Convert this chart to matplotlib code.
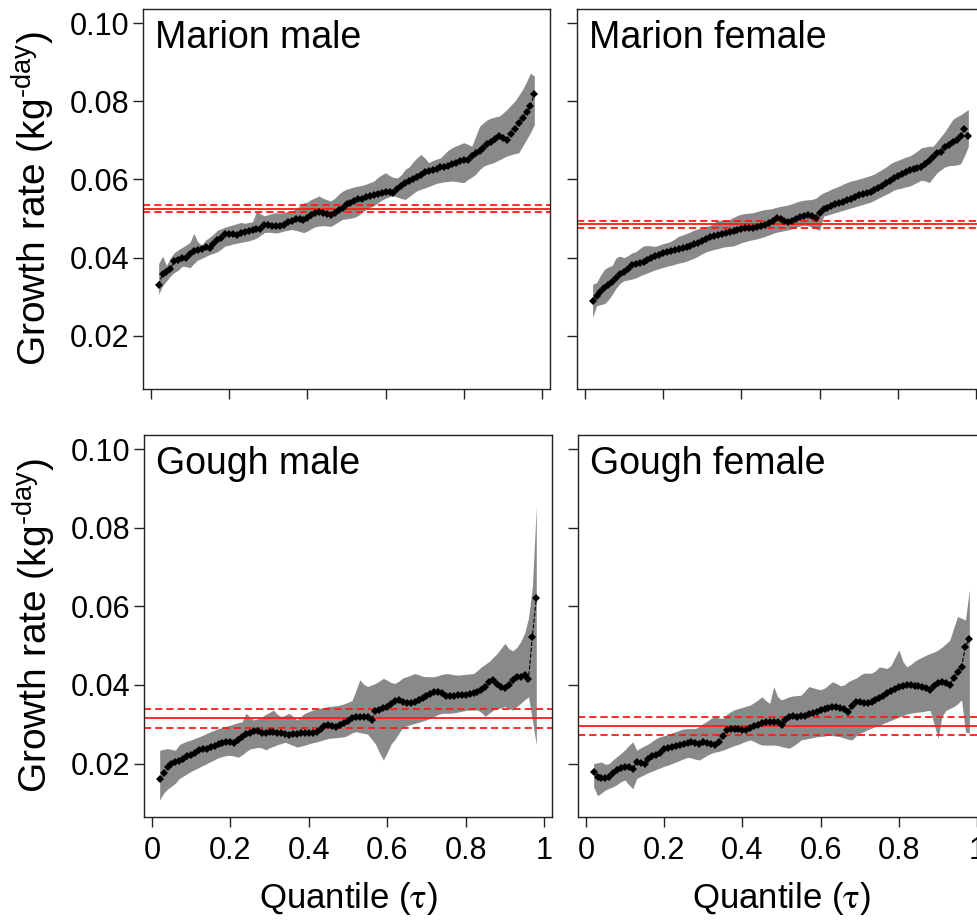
import numpy as np
import matplotlib
matplotlib.use("Agg")
import matplotlib.pyplot as plt

plt.rcParams['font.family'] = ['Liberation Sans', 'DejaVu Sans']
plt.rcParams['mathtext.fontset'] = 'custom'
plt.rcParams['mathtext.rm'] = 'Liberation Sans'

# Quantiles (tau) used in every panel
tau = np.round(np.arange(0.02, 0.985, 0.01), 2)

# Marion male
mm_est = [.0330, .0358, .0362, .0370, .0392, .0395, .0400, .0398, .0410, .0417,
          .0420, .0423, .0426, .0425, .0435, .0445, .0450, .0460, .0461, .0460,
          .0459, .0462, .0465, .0468, .0470, .0472, .0474, .0483, .0484, .0482,
          .0481, .0480, .0484, .0490, .0494, .0498, .0499, .0497, .0502, .0508,
          .0513, .0517, .0515, .0511, .0508, .0514, .0522, .0528, .0536, .0541,
          .0546, .0549, .0551, .0554, .0557, .0559, .0562, .0566, .0568, .0567,
          .0566, .0575, .0584, .0592, .0597, .0602, .0607, .0612, .0618, .0621,
          .0624, .0628, .0631, .0633, .0635, .0639, .0643, .0646, .0649, .0651,
          .0660, .0668, .0674, .0680, .0690, .0696, .0703, .0710, .0706, .0702,
          .0716, .0730, .0745, .0758, .0772, .0789, .0819]
mm_hi = [.0385, .0404, .0380, .0400, .0413, .0420, .0426, .0432, .0439, .0462,
         .0440, .0432, .0445, .0452, .0460, .0470, .0474, .0478, .0481, .0484,
         .0487, .0490, .0488, .0490, .0492, .0519, .0512, .0507, .0510, .0513,
         .0515, .0514, .0516, .0518, .0519, .0525, .0532, .0540, .0542, .0549,
         .0553, .0558, .0552, .0548, .0545, .0552, .0562, .0570, .0575, .0578,
         .0581, .0583, .0585, .0588, .0592, .0596, .0605, .0612, .0617, .0610,
         .0605, .0604, .0612, .0626, .0632, .0645, .0655, .0664, .0655, .0643,
         .0648, .0652, .0655, .0665, .0675, .0681, .0686, .0690, .0694, .0690,
         .0685, .0710, .0736, .0745, .0753, .0757, .0760, .0762, .0770, .0779,
         .0790, .0800, .0815, .0830, .0850, .0872, .0864]
mm_lo = [.0306, .0328, .0340, .0353, .0362, .0368, .0378, .0377, .0374, .0385,
         .0394, .0398, .0403, .0408, .0411, .0415, .0422, .0430, .0432, .0435,
         .0437, .0439, .0441, .0443, .0446, .0450, .0457, .0464, .0465, .0464,
         .0463, .0465, .0468, .0470, .0472, .0470, .0467, .0464, .0468, .0474,
         .0479, .0481, .0482, .0481, .0480, .0486, .0492, .0498, .0499, .0501,
         .0503, .0508, .0516, .0523, .0528, .0533, .0540, .0547, .0552, .0556,
         .0558, .0555, .0551, .0549, .0556, .0564, .0571, .0575, .0578, .0582,
         .0586, .0590, .0592, .0594, .0595, .0596, .0595, .0593, .0592, .0600,
         .0606, .0613, .0625, .0634, .0638, .0641, .0645, .0650, .0655, .0660,
         .0663, .0666, .0668, .0685, .0702, .0720, .0740]
mm_ols = [0.0525, 0.0517, 0.0534]  # mean, lower, upper

# Marion female
mf_est = [.0289, .0302, .0312, .0322, .0330, .0338, .0347, .0357, .0364, .0372,
          .0380, .0384, .0387, .0390, .0393, .0398, .0403, .0408, .0413, .0415,
          .0417, .0419, .0421, .0424, .0427, .0431, .0434, .0438, .0443, .0448,
          .0452, .0456, .0458, .0460, .0462, .0465, .0468, .0470, .0473, .0476,
          .0477, .0477, .0478, .0480, .0484, .0489, .0495, .0501, .0500, .0494,
          .0490, .0493, .0499, .0503, .0506, .0510, .0507, .0502, .0515, .0524,
          .0528, .0532, .0536, .0539, .0543, .0547, .0550, .0555, .0559, .0562,
          .0565, .0569, .0573, .0577, .0584, .0590, .0597, .0604, .0610, .0615,
          .0619, .0623, .0627, .0630, .0633, .0640, .0648, .0657, .0668, .0670,
          .0683, .0688, .0695, .0702, .0712, .0728, .0711]
mf_hi = [.0332, .0336, .0355, .0370, .0376, .0380, .0400, .0404, .0400, .0405,
         .0412, .0415, .0423, .0430, .0431, .0430, .0429, .0432, .0436, .0438,
         .0442, .0448, .0455, .0458, .0462, .0466, .0471, .0474, .0477, .0480,
         .0482, .0490, .0494, .0496, .0497, .0498, .0503, .0508, .0511, .0513,
         .0514, .0515, .0518, .0521, .0523, .0524, .0526, .0529, .0531, .0533,
         .0535, .0538, .0542, .0545, .0547, .0548, .0549, .0552, .0560, .0566,
         .0570, .0575, .0579, .0583, .0588, .0592, .0596, .0598, .0601, .0604,
         .0607, .0610, .0614, .0620, .0626, .0632, .0640, .0645, .0649, .0653,
         .0657, .0660, .0666, .0673, .0681, .0683, .0685, .0685, .0697, .0710,
         .0722, .0738, .0753, .0760, .0765, .0772, .0779]
mf_lo = [.0247, .0277, .0280, .0282, .0292, .0306, .0322, .0334, .0341, .0343,
         .0345, .0348, .0353, .0357, .0361, .0365, .0369, .0372, .0375, .0378,
         .0380, .0383, .0386, .0388, .0391, .0395, .0399, .0404, .0410, .0415,
         .0418, .0421, .0423, .0426, .0428, .0429, .0430, .0434, .0438, .0441,
         .0444, .0446, .0448, .0451, .0454, .0458, .0462, .0465, .0467, .0469,
         .0471, .0474, .0478, .0481, .0483, .0482, .0478, .0474, .0470, .0506,
         .0509, .0512, .0515, .0518, .0521, .0524, .0527, .0530, .0533, .0536,
         .0539, .0542, .0547, .0552, .0557, .0562, .0567, .0573, .0576, .0578,
         .0581, .0583, .0588, .0593, .0598, .0596, .0592, .0605, .0617, .0625,
         .0632, .0635, .0636, .0637, .0640, .0660, .0685]
mf_ols = [0.0485, 0.0477, 0.0494]

# Gough male
gm_est = [.0160, .0175, .0190, .0200, .0205, .0206, .0212, .0218, .0223, .0228,
          .0234, .0236, .0238, .0242, .0245, .0249, .0252, .0255, .0254, .0252,
          .0260, .0268, .0275, .0279, .0284, .0282, .0278, .0277, .0280, .0281,
          .0279, .0277, .0275, .0272, .0274, .0276, .0277, .0277, .0277, .0279,
          .0281, .0287, .0295, .0298, .0296, .0294, .0297, .0302, .0308, .0315,
          .0319, .0319, .0319, .0318, .0312, .0334, .0337, .0341, .0345, .0352,
          .0358, .0362, .0357, .0353, .0355, .0357, .0362, .0368, .0373, .0378,
          .0383, .0382, .0380, .0372, .0371, .0373, .0375, .0375, .0374, .0376,
          .0380, .0383, .0386, .0395, .0408, .0413, .0402, .0396, .0391, .0400,
          .0412, .0420, .0421, .0425, .0414, .0523, .0620]
gm_hi = [.0234, .0236, .0238, .0236, .0234, .0248, .0253, .0257, .0260, .0264,
         .0268, .0272, .0277, .0281, .0285, .0289, .0292, .0295, .0298, .0301,
         .0304, .0306, .0328, .0318, .0311, .0314, .0318, .0325, .0330, .0336,
         .0325, .0319, .0323, .0328, .0320, .0311, .0320, .0328, .0332, .0336,
         .0338, .0341, .0343, .0345, .0346, .0347, .0349, .0352, .0356, .0360,
         .0385, .0413, .0402, .0396, .0400, .0404, .0410, .0417, .0412, .0406,
         .0404, .0410, .0418, .0421, .0425, .0429, .0426, .0422, .0421, .0421,
         .0421, .0424, .0427, .0429, .0428, .0426, .0425, .0426, .0427, .0428,
         .0429, .0437, .0446, .0453, .0460, .0470, .0480, .0493, .0506, .0492,
         .0487, .0495, .0510, .0531, .0570, .0650, .0854]
gm_lo = [.0107, .0125, .0135, .0142, .0150, .0162, .0168, .0174, .0180, .0185,
         .0190, .0195, .0200, .0205, .0210, .0215, .0218, .0220, .0221, .0219,
         .0216, .0222, .0230, .0237, .0239, .0241, .0240, .0235, .0240, .0244,
         .0248, .0251, .0254, .0250, .0246, .0242, .0244, .0247, .0250, .0253,
         .0255, .0258, .0261, .0264, .0265, .0266, .0267, .0268, .0272, .0278,
         .0281, .0279, .0277, .0275, .0262, .0250, .0228, .0209, .0228, .0250,
         .0262, .0278, .0292, .0296, .0299, .0302, .0305, .0308, .0311, .0316,
         .0320, .0325, .0328, .0328, .0328, .0329, .0331, .0333, .0335, .0336,
         .0336, .0336, .0330, .0320, .0328, .0336, .0339, .0342, .0345, .0340,
         .0336, .0345, .0353, .0362, .0370, .0311, .0247]
gm_ols = [0.0315, 0.0291, 0.0339]

# Gough female
gf_est = [.0179, .0165, .0162, .0163, .0167, .0176, .0183, .0188, .0192, .0190,
          .0187, .0204, .0202, .0200, .0212, .0218, .0221, .0226, .0236, .0239,
          .0241, .0244, .0248, .0251, .0253, .0255, .0253, .0251, .0255, .0253,
          .0249, .0247, .0255, .0270, .0285, .0287, .0289, .0288, .0286, .0285,
          .0290, .0295, .0299, .0302, .0305, .0306, .0306, .0305, .0299, .0310,
          .0319, .0320, .0319, .0320, .0322, .0325, .0328, .0331, .0335, .0338,
          .0341, .0345, .0343, .0341, .0338, .0332, .0346, .0357, .0356, .0354,
          .0353, .0356, .0362, .0366, .0372, .0379, .0385, .0390, .0396, .0398,
          .0400, .0399, .0398, .0397, .0396, .0393, .0388, .0398, .0406, .0408,
          .0404, .0400, .0418, .0432, .0446, .0497, .0518]
gf_hi = [.0200, .0202, .0204, .0198, .0200, .0210, .0218, .0226, .0235, .0246,
         .0255, .0234, .0240, .0245, .0250, .0257, .0264, .0268, .0271, .0274,
         .0278, .0281, .0285, .0288, .0289, .0289, .0289, .0295, .0302, .0308,
         .0315, .0319, .0316, .0315, .0325, .0332, .0337, .0340, .0343, .0346,
         .0349, .0355, .0362, .0370, .0360, .0353, .0396, .0370, .0362, .0366,
         .0370, .0372, .0373, .0374, .0385, .0396, .0393, .0390, .0388, .0392,
         .0400, .0408, .0404, .0398, .0400, .0408, .0413, .0417, .0424, .0430,
         .0430, .0430, .0436, .0446, .0444, .0442, .0450, .0470, .0489, .0460,
         .0446, .0452, .0460, .0466, .0471, .0476, .0480, .0484, .0489, .0496,
         .0505, .0514, .0545, .0574, .0570, .0565, .0642]
gf_lo = [.0141, .0118, .0125, .0133, .0137, .0141, .0147, .0154, .0158, .0146,
         .0136, .0162, .0167, .0172, .0177, .0181, .0185, .0189, .0193, .0196,
         .0200, .0204, .0208, .0212, .0216, .0214, .0211, .0209, .0215, .0221,
         .0226, .0229, .0231, .0234, .0238, .0242, .0246, .0249, .0253, .0257,
         .0260, .0256, .0251, .0247, .0247, .0247, .0247, .0246, .0243, .0241,
         .0239, .0245, .0252, .0260, .0262, .0264, .0266, .0268, .0269, .0270,
         .0272, .0271, .0270, .0268, .0265, .0262, .0260, .0270, .0277, .0281,
         .0286, .0290, .0294, .0298, .0302, .0306, .0310, .0314, .0318, .0322,
         .0326, .0328, .0330, .0331, .0332, .0334, .0335, .0300, .0264, .0320,
         .0335, .0340, .0345, .0352, .0362, .0281, .0277]
gf_ols = [0.0295, 0.0272, 0.0319]

panel_names = ["Marion male", "Marion female", "Gough male", "Gough female"]
xticks = [0, 0.2, 0.4, 0.6, 0.8, 1]
xtick_labels = ["0", "0.2", "0.4", "0.6", "0.8", "1"]
yticks = [0.02, 0.04, 0.06, 0.08, 0.10]
ytick_labels = ["0.02", "0.04", "0.06", "0.08", "0.10"]

panels = [
    (mm_est, mm_lo, mm_hi, mm_ols),
    (mf_est, mf_lo, mf_hi, mf_ols),
    (gm_est, gm_lo, gm_hi, gm_ols),
    (gf_est, gf_lo, gf_hi, gf_ols),
]

# figure layout in pixels: left, top, width, height
W, H = 977, 923
boxes = [(143, 9, 407, 380), (577, 9, 407, 380),
         (144, 435, 408, 382), (578, 435, 407, 382)]

fig = plt.figure(figsize=(W / 100, H / 100), dpi=100)

for i, (est, lo, hi, ols) in enumerate(panels):
    assert len(est) == len(lo) == len(hi) == len(tau)
    l, t, w, h = boxes[i]
    ax = fig.add_axes([l / W, 1 - (t + h) / H, w / W, h / H])

    ax.fill_between(tau, lo, hi, color='#898989', linewidth=0, zorder=1)
    ax.axhline(ols[0], color='#ff1a1a', lw=1.3, zorder=2)
    ax.axhline(ols[1], color='#ff1a1a', lw=1.3, ls=(0, (4, 2.2)), zorder=2)
    ax.axhline(ols[2], color='#ff1a1a', lw=1.3, ls=(0, (4, 2.2)), zorder=2)
    ax.plot(tau, est, color='black', lw=0.8, ls='--', marker='D', ms=3.8,
            mew=0, zorder=3)

    ax.set_xlim(-0.02, 1.02)
    ax.set_ylim(0.0064, 0.1036)
    ax.set_xticks(xticks)
    ax.set_yticks(yticks)
    ax.set_xticklabels(xtick_labels)
    ax.set_yticklabels(ytick_labels)
    ax.tick_params(direction='out', length=7, width=1, labelsize=22,
                   colors='#222222', labelcolor='black')
    ax.tick_params(axis='x', pad=7)
    ax.tick_params(axis='y', pad=3)
    for s in ax.spines.values():
        s.set_color('#222222')
        s.set_linewidth(1.0)

    if i < 2:
        ax.tick_params(labelbottom=False)
    else:
        ax.set_xlabel(r"Quantile ($\mathrm{\tau}$)", fontsize=25, labelpad=10,
                      math_fontfamily='stix')
    if i % 2 == 1:
        ax.tick_params(labelleft=False)
    else:
        ax.set_ylabel(r"Growth rate (kg$^{\text{-day}}$)", fontsize=28,
                      labelpad=9)

    ax.text(0.03, 0.898, panel_names[i], transform=ax.transAxes,
            fontsize=27, va='baseline', ha='left')

fig.savefig("out.png", dpi=100)
